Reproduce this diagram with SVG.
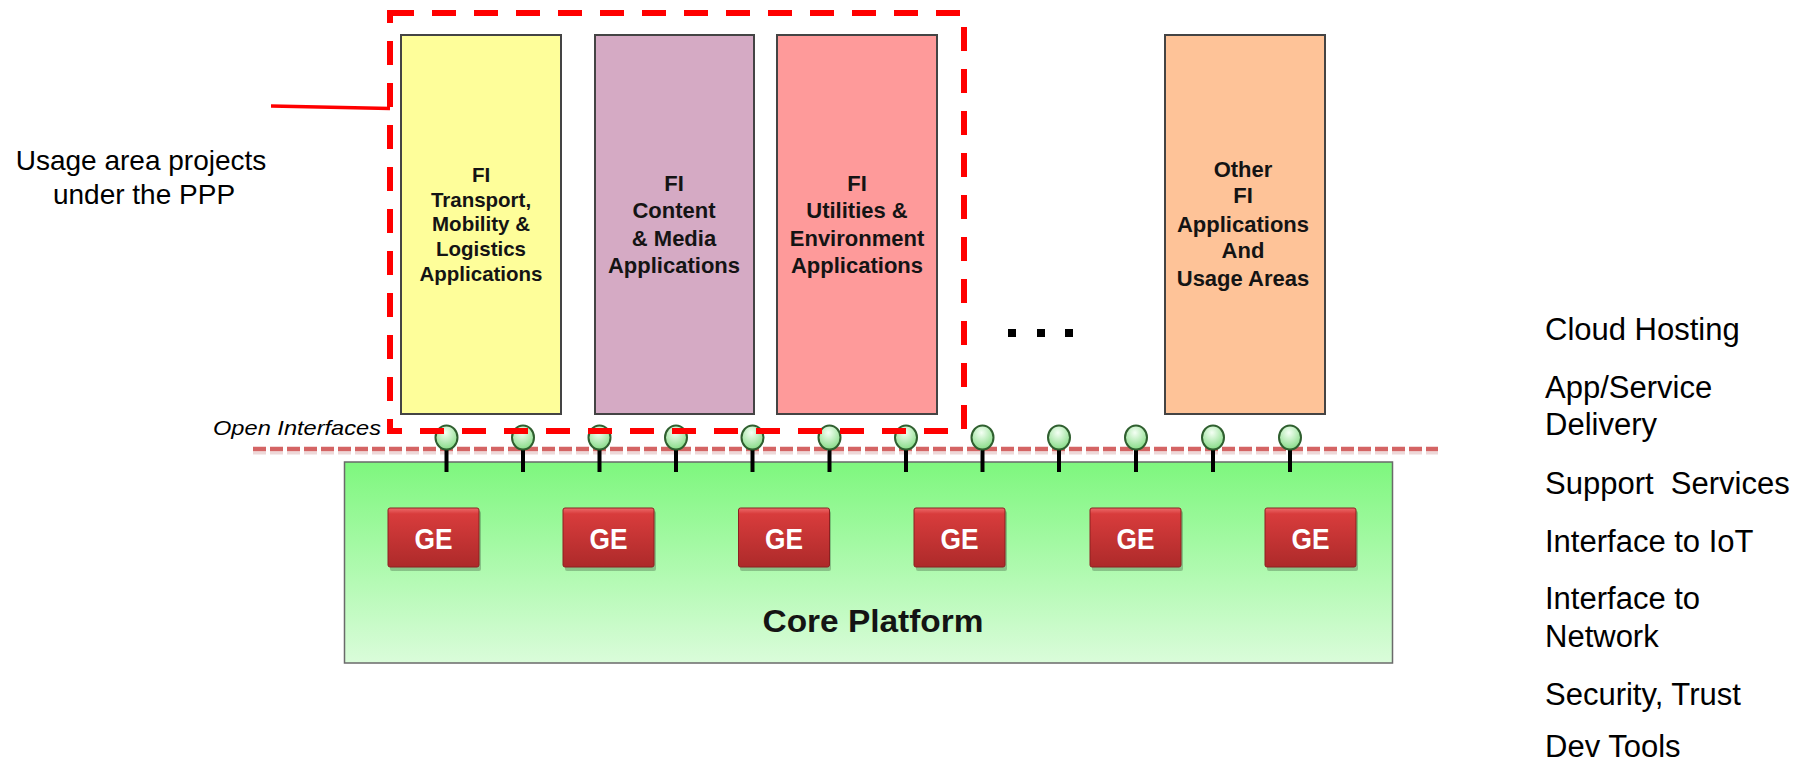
<svg xmlns="http://www.w3.org/2000/svg" width="1809" height="765" viewBox="0 0 1809 765">
<defs>
<linearGradient id="coreGrad" x1="0" y1="0" x2="0" y2="1">
<stop offset="0" stop-color="#7ef77e"/>
<stop offset="1" stop-color="#dafcda"/>
</linearGradient>
<linearGradient id="geGrad" x1="0" y1="0" x2="0" y2="1">
<stop offset="0" stop-color="#ee6a6a"/>
<stop offset="0.1" stop-color="#d83c3c"/>
<stop offset="1" stop-color="#ad2a2a"/>
</linearGradient>
<radialGradient id="bulbGrad" cx="0.45" cy="0.3" r="0.75">
<stop offset="0" stop-color="#f4fff4"/>
<stop offset="1" stop-color="#7fd97f"/>
</radialGradient>
</defs>
<style>
.box{stroke:#444;stroke-width:2}
.bt{font-family:"Liberation Sans",Arial,sans-serif;font-weight:bold;fill:#141414;text-anchor:middle}
.lbl{font-family:"Liberation Sans",Arial,sans-serif;fill:#000}
.ge rect.f{fill:url(#geGrad);stroke:#8c2020;stroke-width:1}
.ge rect.s{fill:#000;opacity:0.22}
.ge text{font-family:"Liberation Sans",Arial,sans-serif;font-weight:700;font-size:30px;fill:#fff;text-anchor:middle}
.stem{stroke:#000;stroke-width:4}
.bulb{fill:url(#bulbGrad);stroke:#2f5f2f;stroke-width:2}
</style>
<rect width="1809" height="765" fill="#fff"/>

<g id="label-usage">
<text class="lbl" x="141" y="170" font-size="28" text-anchor="middle">Usage area projects</text>
<text class="lbl" x="144" y="204" font-size="28" text-anchor="middle">under the PPP</text>
</g>

<g id="box-transport">
<rect class="box" x="401" y="35" width="160" height="379" fill="#fefe9a"/>
<text class="bt" font-size="20.5"><tspan x="481" y="182">FI</tspan><tspan x="481" y="207">Transport,</tspan><tspan x="481" y="231">Mobility &amp;</tspan><tspan x="481" y="256">Logistics</tspan><tspan x="481" y="281">Applications</tspan></text>
</g>

<g id="box-content">
<rect class="box" x="595" y="35" width="159" height="379" fill="#d5aac4"/>
<text class="bt" font-size="22"><tspan x="674" y="191">FI</tspan><tspan x="674" y="218">Content</tspan><tspan x="674" y="246">&amp; Media</tspan><tspan x="674" y="273">Applications</tspan></text>
</g>

<g id="box-utilities">
<rect class="box" x="777" y="35" width="160" height="379" fill="#fe9a9a"/>
<text class="bt" font-size="22"><tspan x="857" y="191">FI</tspan><tspan x="857" y="218">Utilities &amp;</tspan><tspan x="857" y="246">Environment</tspan><tspan x="857" y="273">Applications</tspan></text>
</g>

<g id="ellipsis">
<rect x="1008" y="329" width="8" height="8" fill="#000"/>
<rect x="1037" y="329" width="8" height="8" fill="#000"/>
<rect x="1065" y="329" width="8" height="8" fill="#000"/>
</g>

<g id="box-other">
<rect class="box" x="1165" y="35" width="160" height="379" fill="#fec398"/>
<text class="bt" font-size="22"><tspan x="1243" y="177">Other</tspan><tspan x="1243" y="203">FI</tspan><tspan x="1243" y="232">Applications</tspan><tspan x="1243" y="258">And</tspan><tspan x="1243" y="286">Usage Areas</tspan></text>
</g>

<g id="core-platform">
<rect x="344.5" y="462" width="1048" height="201" fill="url(#coreGrad)" stroke="#6a6a6a" stroke-width="1.5"/>
<text class="bt" x="873" y="632" font-size="31" textLength="221" lengthAdjust="spacingAndGlyphs">Core Platform</text>
</g>

<g id="ge-elements" class="ge">
<g id="ge1"><rect class="s" x="390" y="511" width="91" height="60" rx="2"/><rect class="f" x="388" y="508" width="91" height="59" rx="2"/><text x="433.5" y="549" textLength="38" lengthAdjust="spacingAndGlyphs">GE</text></g>
<g id="ge2"><rect class="s" x="565" y="511" width="91" height="60" rx="2"/><rect class="f" x="563" y="508" width="91" height="59" rx="2"/><text x="608.5" y="549" textLength="38" lengthAdjust="spacingAndGlyphs">GE</text></g>
<g id="ge3"><rect class="s" x="740" y="511" width="91" height="60" rx="2"/><rect class="f" x="738.5" y="508" width="91" height="59" rx="2"/><text x="784" y="549" textLength="38" lengthAdjust="spacingAndGlyphs">GE</text></g>
<g id="ge4"><rect class="s" x="916" y="511" width="91" height="60" rx="2"/><rect class="f" x="914" y="508" width="91" height="59" rx="2"/><text x="959.5" y="549" textLength="38" lengthAdjust="spacingAndGlyphs">GE</text></g>
<g id="ge5"><rect class="s" x="1092" y="511" width="91" height="60" rx="2"/><rect class="f" x="1090" y="508" width="91" height="59" rx="2"/><text x="1135.5" y="549" textLength="38" lengthAdjust="spacingAndGlyphs">GE</text></g>
<g id="ge6"><rect class="s" x="1267" y="511" width="91" height="60" rx="2"/><rect class="f" x="1265" y="508" width="91" height="59" rx="2"/><text x="1310.5" y="549" textLength="38" lengthAdjust="spacingAndGlyphs">GE</text></g>
</g>

<g id="open-interfaces">
<text x="213" y="435" font-family="'Liberation Sans',Arial,sans-serif" font-style="italic" font-size="21" fill="#000" textLength="168" lengthAdjust="spacingAndGlyphs">Open Interfaces</text>
<line x1="253" y1="453" x2="1438" y2="453" stroke="#e6c8c8" stroke-width="3" stroke-dasharray="13 4" opacity="0.7"/>
<line x1="253" y1="449" x2="1438" y2="449" stroke="#d46464" stroke-width="4.5" stroke-dasharray="13 4"/>
</g>

<g id="connectors">
<g id="stems">
<line class="stem" x1="446.5" y1="448" x2="446.5" y2="472"/>
<line class="stem" x1="523" y1="448" x2="523" y2="472"/>
<line class="stem" x1="599.5" y1="448" x2="599.5" y2="472"/>
<line class="stem" x1="676" y1="448" x2="676" y2="472"/>
<line class="stem" x1="752.5" y1="448" x2="752.5" y2="472"/>
<line class="stem" x1="829.5" y1="448" x2="829.5" y2="472"/>
<line class="stem" x1="906" y1="448" x2="906" y2="472"/>
<line class="stem" x1="982.5" y1="448" x2="982.5" y2="472"/>
<line class="stem" x1="1059" y1="448" x2="1059" y2="472"/>
<line class="stem" x1="1136" y1="448" x2="1136" y2="472"/>
<line class="stem" x1="1213" y1="448" x2="1213" y2="472"/>
<line class="stem" x1="1290" y1="448" x2="1290" y2="472"/>
</g>
<line id="pointer" x1="271" y1="106" x2="390" y2="108.5" stroke="#ff0000" stroke-width="3.5"/>
</g>

<g id="interface-bulbs">
<ellipse class="bulb" cx="446.5" cy="437.5" rx="11" ry="12"/>
<ellipse class="bulb" cx="523" cy="437.5" rx="11" ry="12"/>
<ellipse class="bulb" cx="599.5" cy="437.5" rx="11" ry="12"/>
<ellipse class="bulb" cx="676" cy="437.5" rx="11" ry="12"/>
<ellipse class="bulb" cx="752.5" cy="437.5" rx="11" ry="12"/>
<ellipse class="bulb" cx="829.5" cy="437.5" rx="11" ry="12"/>
<ellipse class="bulb" cx="906" cy="437.5" rx="11" ry="12"/>
<ellipse class="bulb" cx="982.5" cy="437.5" rx="11" ry="12"/>
<ellipse class="bulb" cx="1059" cy="437.5" rx="11" ry="12"/>
<ellipse class="bulb" cx="1136" cy="437.5" rx="11" ry="12"/>
<ellipse class="bulb" cx="1213" cy="437.5" rx="11" ry="12"/>
<ellipse class="bulb" cx="1290" cy="437.5" rx="11" ry="12"/>
</g>

<g id="ppp-boundary">
<rect x="390" y="13" width="574" height="418" fill="none" stroke="#ff0000" stroke-width="6" stroke-dasharray="24 18"/>
</g>

<g id="capability-list" class="lbl" font-size="31">
<text x="1545" y="340">Cloud Hosting</text>
<text x="1545" y="398">App/Service</text>
<text x="1545" y="435">Delivery</text>
<text x="1545" y="494" xml:space="preserve">Support  Services</text>
<text x="1545" y="552">Interface to IoT</text>
<text x="1545" y="609">Interface to</text>
<text x="1545" y="647">Network</text>
<text x="1545" y="705">Security, Trust</text>
<text x="1545" y="757">Dev Tools</text>
</g>
</svg>
